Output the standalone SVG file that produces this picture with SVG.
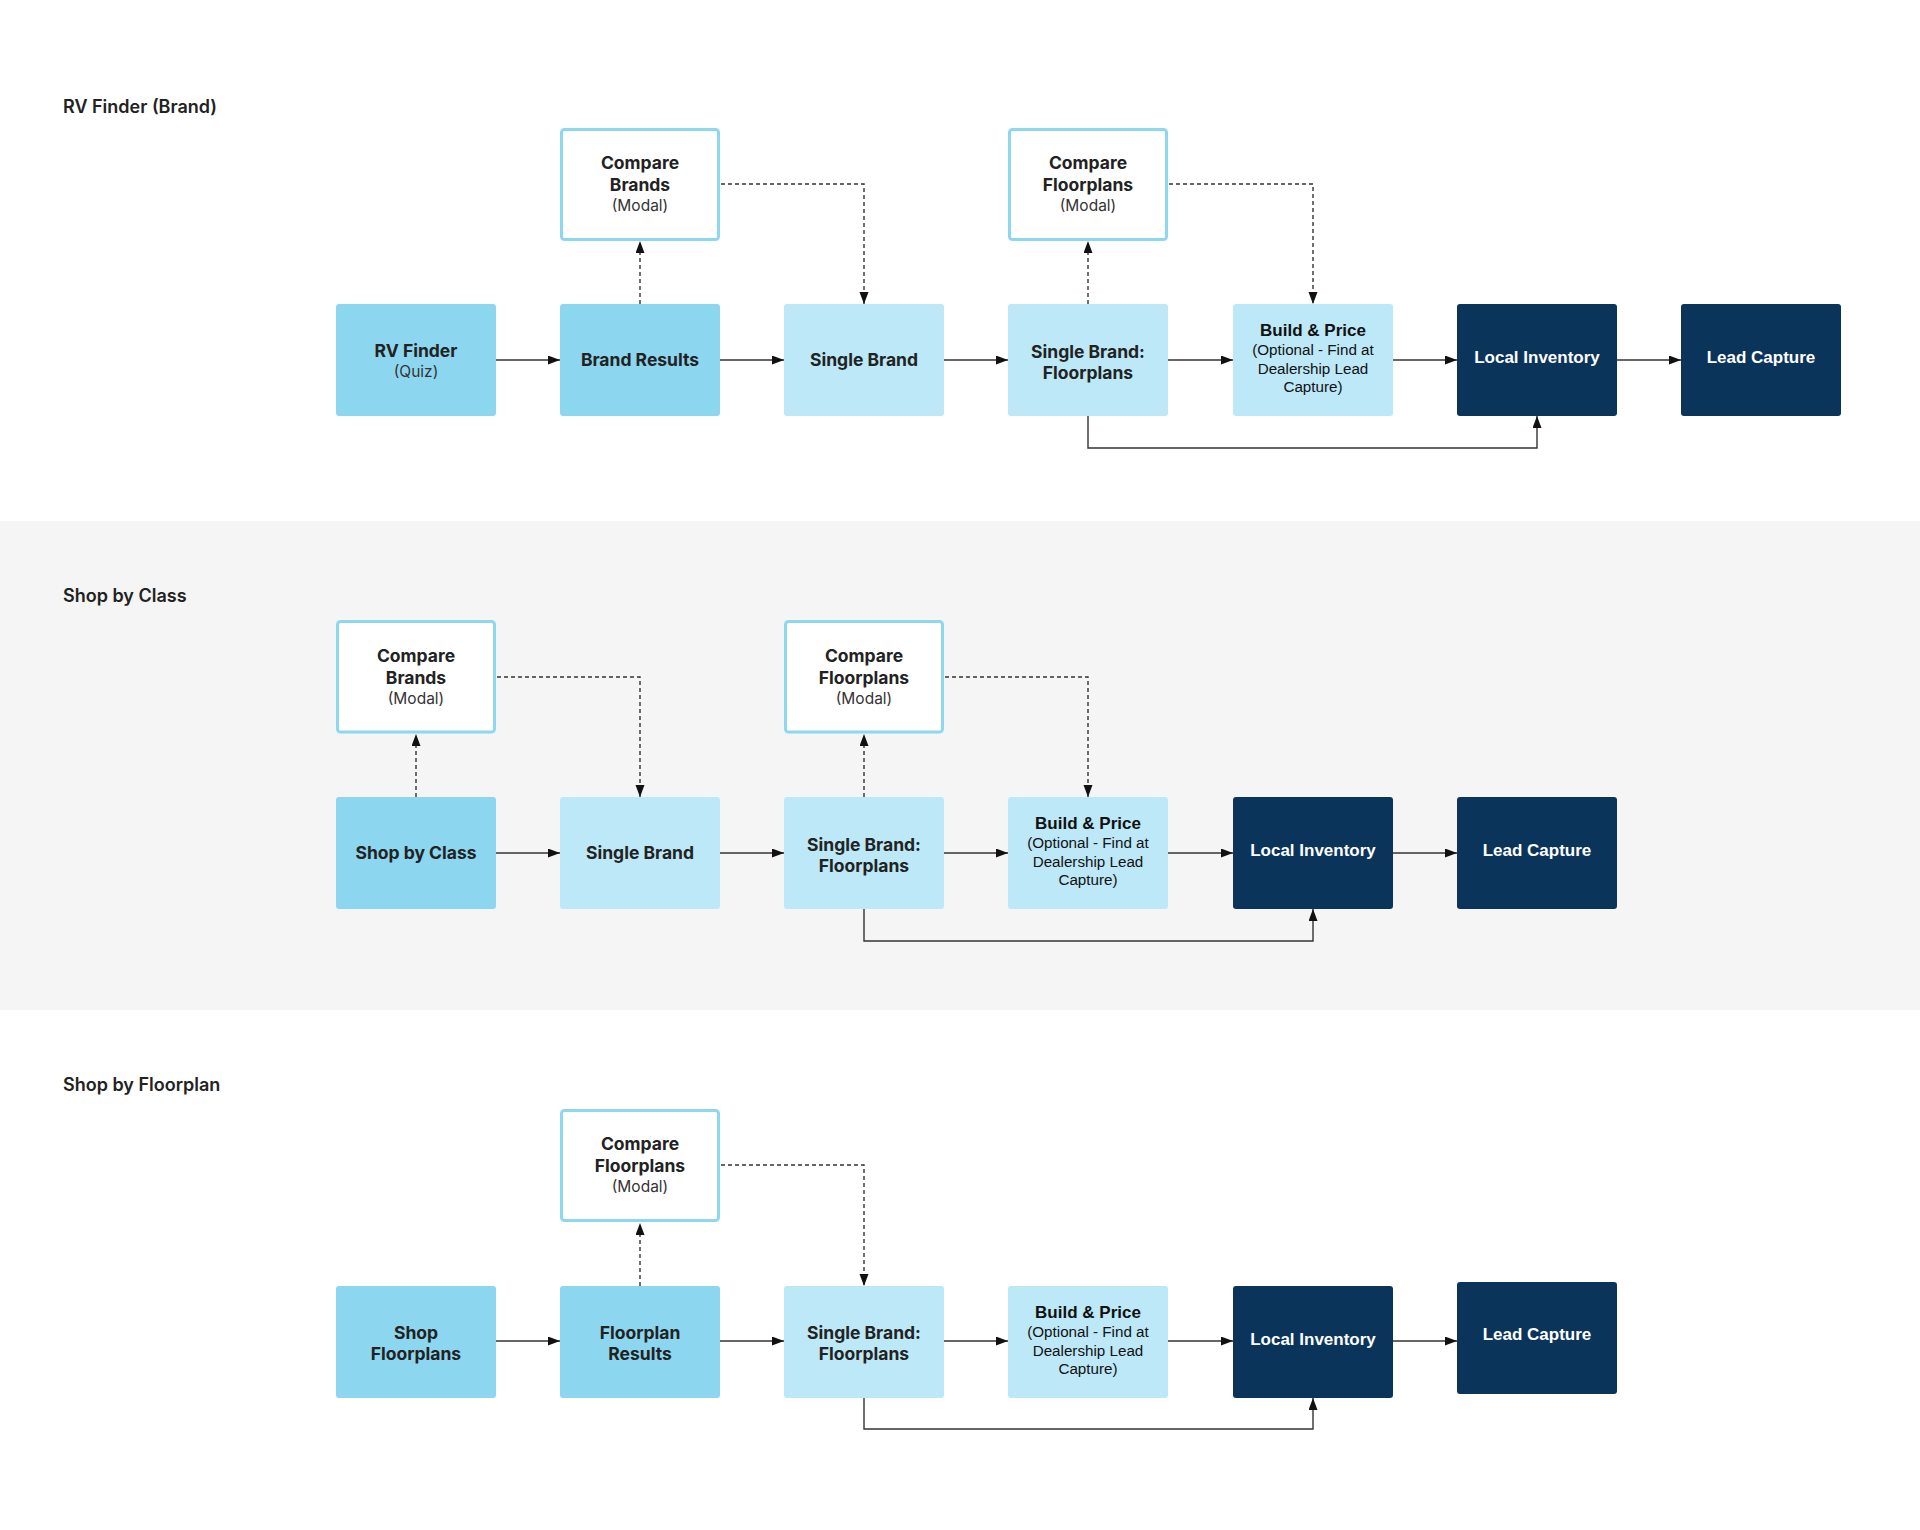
<svg xmlns="http://www.w3.org/2000/svg" width="1920" height="1530" viewBox="0 0 1920 1530">
<defs>
<style>
.bg{fill:#ffffff}
.band{fill:#f5f5f5}
.med{fill:#8dd6f0}
.lt{fill:#bce8f7}
.dk{fill:#0b345a}
.cmp{fill:#ffffff;stroke:#8ed8ef;stroke-width:3}
.title{font-family:Inter,"Liberation Sans",sans-serif;font-weight:600;font-size:18px;fill:#222}
.lb{font-family:Inter,"Liberation Sans",sans-serif;font-weight:700;font-size:17.5px;fill:#222;text-anchor:middle}
.sub{font-family:Inter,"Liberation Sans",sans-serif;font-weight:400;font-size:15.5px;fill:#333;text-anchor:middle}
.ab{font-family:"Liberation Sans",Arial,sans-serif;font-weight:700;font-size:17px;fill:#111;text-anchor:middle}
.as{font-family:"Liberation Sans",Arial,sans-serif;font-weight:400;font-size:15.2px;fill:#111;text-anchor:middle}
.wb{font-family:"Liberation Sans",Arial,sans-serif;font-weight:700;font-size:17px;fill:#ffffff;text-anchor:middle}
.ln{fill:none;stroke:#333;stroke-width:1.4}
.ds{fill:none;stroke:#333;stroke-width:1.4;stroke-dasharray:4 3}
</style>
<marker id="ah" markerUnits="userSpaceOnUse" markerWidth="13" markerHeight="10" refX="12" refY="4.5" orient="auto">
<path d="M0,0 L12,4.5 L0,9 z" fill="#111"/>
</marker>
</defs>
<rect class="bg" x="0" y="0" width="1920" height="1530"/>
<rect class="band" x="0" y="521" width="1920" height="489"/>

<g id="titles">
<text class="title" x="63" y="113">RV Finder (Brand)</text>
<text class="title" x="63" y="602">Shop by Class</text>
<text class="title" x="63" y="1091">Shop by Floorplan</text>
</g>

<g id="connectors">
<!-- Row 1 -->
<line class="ln" x1="496" y1="360" x2="560" y2="360" marker-end="url(#ah)"/>
<line class="ln" x1="720" y1="360" x2="784" y2="360" marker-end="url(#ah)"/>
<line class="ln" x1="944" y1="360" x2="1008" y2="360" marker-end="url(#ah)"/>
<line class="ln" x1="1168" y1="360" x2="1233" y2="360" marker-end="url(#ah)"/>
<line class="ln" x1="1393" y1="360" x2="1457" y2="360" marker-end="url(#ah)"/>
<line class="ln" x1="1617" y1="360" x2="1681" y2="360" marker-end="url(#ah)"/>
<line class="ds" x1="640" y1="304" x2="640" y2="241" marker-end="url(#ah)"/>
<polyline class="ds" points="721,184 864,184 864,304" marker-end="url(#ah)"/>
<line class="ds" x1="1088" y1="304" x2="1088" y2="241" marker-end="url(#ah)"/>
<polyline class="ds" points="1169,184 1313,184 1313,304" marker-end="url(#ah)"/>
<polyline class="ln" points="1088,416 1088,448 1537,448 1537,416" marker-end="url(#ah)"/>
<!-- Row 2 -->
<line class="ln" x1="496" y1="853" x2="560" y2="853" marker-end="url(#ah)"/>
<line class="ln" x1="720" y1="853" x2="784" y2="853" marker-end="url(#ah)"/>
<line class="ln" x1="944" y1="853" x2="1008" y2="853" marker-end="url(#ah)"/>
<line class="ln" x1="1168" y1="853" x2="1233" y2="853" marker-end="url(#ah)"/>
<line class="ln" x1="1393" y1="853" x2="1457" y2="853" marker-end="url(#ah)"/>
<line class="ds" x1="416" y1="797" x2="416" y2="734" marker-end="url(#ah)"/>
<polyline class="ds" points="497,677 640,677 640,797" marker-end="url(#ah)"/>
<line class="ds" x1="864" y1="797" x2="864" y2="734" marker-end="url(#ah)"/>
<polyline class="ds" points="945,677 1088,677 1088,797" marker-end="url(#ah)"/>
<polyline class="ln" points="864,909 864,941 1313,941 1313,909" marker-end="url(#ah)"/>
<!-- Row 3 -->
<line class="ln" x1="496" y1="1341" x2="560" y2="1341" marker-end="url(#ah)"/>
<line class="ln" x1="720" y1="1341" x2="784" y2="1341" marker-end="url(#ah)"/>
<line class="ln" x1="944" y1="1341" x2="1008" y2="1341" marker-end="url(#ah)"/>
<line class="ln" x1="1168" y1="1341" x2="1233" y2="1341" marker-end="url(#ah)"/>
<line class="ln" x1="1393" y1="1341" x2="1457" y2="1341" marker-end="url(#ah)"/>
<line class="ds" x1="640" y1="1286" x2="640" y2="1223" marker-end="url(#ah)"/>
<polyline class="ds" points="721,1165 864,1165 864,1286" marker-end="url(#ah)"/>
<polyline class="ln" points="864,1398 864,1429 1313,1429 1313,1398" marker-end="url(#ah)"/>
</g>

<!-- Row 1 nodes -->
<g id="r1-rvfinder">
<rect class="med" x="336" y="304" width="160" height="112" rx="3"/>
<text class="lb" x="416" y="357">RV Finder</text>
<text class="sub" x="416" y="377">(Quiz)</text>
</g>
<g id="r1-brandresults">
<rect class="med" x="560" y="304" width="160" height="112" rx="3"/>
<text class="lb" x="640" y="366">Brand Results</text>
</g>
<g id="r1-comparebrands">
<rect class="cmp" x="561.5" y="129.5" width="157" height="110" rx="3"/>
<text class="lb" x="640" y="169">Compare</text>
<text class="lb" x="640" y="190.5">Brands</text>
<text class="sub" x="640" y="210.5">(Modal)</text>
</g>
<g id="r1-singlebrand">
<rect class="lt" x="784" y="304" width="160" height="112" rx="3"/>
<text class="lb" x="864" y="366">Single Brand</text>
</g>
<g id="r1-sbfloorplans">
<rect class="lt" x="1008" y="304" width="160" height="112" rx="3"/>
<text class="lb" x="1088" y="357.5">Single Brand:</text>
<text class="lb" x="1088" y="378.5">Floorplans</text>
</g>
<g id="r1-comparefloorplans">
<rect class="cmp" x="1009.5" y="129.5" width="157" height="110" rx="3"/>
<text class="lb" x="1088" y="169">Compare</text>
<text class="lb" x="1088" y="190.5">Floorplans</text>
<text class="sub" x="1088" y="210.5">(Modal)</text>
</g>
<g id="r1-buildprice">
<rect class="lt" x="1233" y="304" width="160" height="112" rx="3"/>
<text class="ab" x="1313" y="336">Build &amp; Price</text>
<text class="as" x="1313" y="355">(Optional - Find at</text>
<text class="as" x="1313" y="373.5">Dealership Lead</text>
<text class="as" x="1313" y="392">Capture)</text>
</g>
<g id="r1-localinventory">
<rect class="dk" x="1457" y="304" width="160" height="112" rx="3"/>
<text class="wb" x="1537" y="363">Local Inventory</text>
</g>
<g id="r1-leadcapture">
<rect class="dk" x="1681" y="304" width="160" height="112" rx="3"/>
<text class="wb" x="1761" y="363">Lead Capture</text>
</g>

<!-- Row 2 nodes -->
<g id="r2-shopbyclass">
<rect class="med" x="336" y="797" width="160" height="112" rx="3"/>
<text class="lb" x="416" y="859">Shop by Class</text>
</g>
<g id="r2-comparebrands">
<rect class="cmp" x="337.5" y="621.5" width="157" height="110.5" rx="3"/>
<text class="lb" x="416" y="662">Compare</text>
<text class="lb" x="416" y="683.5">Brands</text>
<text class="sub" x="416" y="703.5">(Modal)</text>
</g>
<g id="r2-singlebrand">
<rect class="lt" x="560" y="797" width="160" height="112" rx="3"/>
<text class="lb" x="640" y="859">Single Brand</text>
</g>
<g id="r2-sbfloorplans">
<rect class="lt" x="784" y="797" width="160" height="112" rx="3"/>
<text class="lb" x="864" y="850.5">Single Brand:</text>
<text class="lb" x="864" y="871.5">Floorplans</text>
</g>
<g id="r2-comparefloorplans">
<rect class="cmp" x="785.5" y="621.5" width="157" height="110.5" rx="3"/>
<text class="lb" x="864" y="662">Compare</text>
<text class="lb" x="864" y="683.5">Floorplans</text>
<text class="sub" x="864" y="703.5">(Modal)</text>
</g>
<g id="r2-buildprice">
<rect class="lt" x="1008" y="797" width="160" height="112" rx="3"/>
<text class="ab" x="1088" y="829">Build &amp; Price</text>
<text class="as" x="1088" y="848">(Optional - Find at</text>
<text class="as" x="1088" y="866.5">Dealership Lead</text>
<text class="as" x="1088" y="885">Capture)</text>
</g>
<g id="r2-localinventory">
<rect class="dk" x="1233" y="797" width="160" height="112" rx="3"/>
<text class="wb" x="1313" y="856">Local Inventory</text>
</g>
<g id="r2-leadcapture">
<rect class="dk" x="1457" y="797" width="160" height="112" rx="3"/>
<text class="wb" x="1537" y="856">Lead Capture</text>
</g>

<!-- Row 3 nodes -->
<g id="r3-shopfloorplans">
<rect class="med" x="336" y="1286" width="160" height="112" rx="3"/>
<text class="lb" x="416" y="1339">Shop</text>
<text class="lb" x="416" y="1360">Floorplans</text>
</g>
<g id="r3-floorplanresults">
<rect class="med" x="560" y="1286" width="160" height="112" rx="3"/>
<text class="lb" x="640" y="1339">Floorplan</text>
<text class="lb" x="640" y="1360">Results</text>
</g>
<g id="r3-comparefloorplans">
<rect class="cmp" x="561.5" y="1110.5" width="157" height="110" rx="3"/>
<text class="lb" x="640" y="1150">Compare</text>
<text class="lb" x="640" y="1171.5">Floorplans</text>
<text class="sub" x="640" y="1191.5">(Modal)</text>
</g>
<g id="r3-sbfloorplans">
<rect class="lt" x="784" y="1286" width="160" height="112" rx="3"/>
<text class="lb" x="864" y="1339">Single Brand:</text>
<text class="lb" x="864" y="1360">Floorplans</text>
</g>
<g id="r3-buildprice">
<rect class="lt" x="1008" y="1286" width="160" height="112" rx="3"/>
<text class="ab" x="1088" y="1318">Build &amp; Price</text>
<text class="as" x="1088" y="1337">(Optional - Find at</text>
<text class="as" x="1088" y="1355.5">Dealership Lead</text>
<text class="as" x="1088" y="1374">Capture)</text>
</g>
<g id="r3-localinventory">
<rect class="dk" x="1233" y="1286" width="160" height="112" rx="3"/>
<text class="wb" x="1313" y="1345">Local Inventory</text>
</g>
<g id="r3-leadcapture">
<rect class="dk" x="1457" y="1282" width="160" height="112" rx="3"/>
<text class="wb" x="1537" y="1340">Lead Capture</text>
</g>
</svg>
